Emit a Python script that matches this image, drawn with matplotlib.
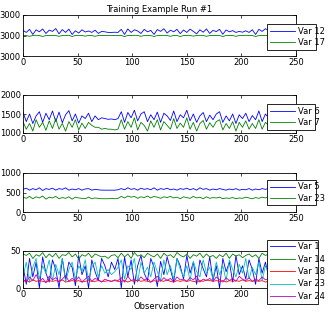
import numpy as np
import matplotlib
matplotlib.use("Agg")
import matplotlib.pyplot as plt

step = 3
title = "Training Example Run #1"
xlabel = "Observation"
xticks = [0, 50, 100, 150, 200, 250]

var12 = [3250,3150,3300,3050,3280,3180,3320,3100,3260,3200,
         3340,3080,3290,3150,3310,3050,3230,3120,3280,3170,
         3220,3150,3260,3100,3200,3180,3150,3150,3160,3150,
         3300,3050,3320,3150,3280,3220,3100,3300,3180,3250,
         3050,3290,3200,3330,3120,3260,3180,3300,3090,3270,
         3150,3310,3200,3080,3280,3160,3320,3100,3250,3190,
         3300,3060,3270,3180,3240,3150,3200,3160,3230,3150,
         3280,3050,3300,3200,3330,3250]
var17 = [3000,3000,2960,3000,3010,3000,2950,3000,3000,3000,
         3000,2960,3000,3000,3010,2950,3000,3000,3000,2970,
         3000,3000,2960,3000,3000,3000,3000,3000,3000,3000,
         3000,2950,3000,3000,3010,3000,2960,3000,3000,3000,
         2950,3000,3000,3010,3000,2960,3000,3000,2950,3000,
         3000,3000,2970,3000,3010,3000,2960,3000,3000,3000,
         3000,2950,3000,3000,3000,2960,3000,3000,3010,3000,
         3000,2950,3000,3000,3000,3000]
var6 = [1550,1300,1500,1250,1450,1560,1280,1520,1350,1580,
        1300,1550,1270,1480,1590,1320,1500,1260,1450,1380,
        1520,1300,1450,1350,1400,1380,1360,1370,1350,1380,
        1560,1280,1540,1400,1600,1320,1500,1560,1300,1480,
        1350,1550,1280,1520,1450,1330,1580,1300,1480,1400,
        1600,1320,1500,1280,1450,1540,1300,1470,1350,1500,
        1560,1280,1450,1320,1500,1250,1480,1380,1520,1300,
        1460,1350,1580,1300,1500,1400]
var7 = [1300,1100,1250,1050,1350,1150,1280,1070,1320,1120,
        1380,1100,1250,1050,1300,1150,1350,1080,1260,1120,
        1280,1200,1150,1150,1100,1120,1100,1100,1080,1100,
        1350,1100,1300,1150,1400,1080,1280,1200,1050,1320,
        1150,1350,1080,1300,1200,1100,1380,1120,1260,1150,
        1400,1100,1280,1050,1250,1330,1100,1270,1150,1300,
        1350,1080,1250,1120,1300,1050,1280,1150,1320,1100,
        1250,1120,1350,1100,1280,1200]
var5 = [580,610,560,600,570,620,550,600,580,610,
        560,600,580,620,560,590,570,600,560,590,
        600,560,580,570,560,560,560,560,560,570,
        600,570,620,580,600,560,610,580,600,570,
        620,560,600,580,610,570,590,560,600,580,
        610,570,600,560,620,580,600,560,590,570,
        600,580,560,590,570,600,560,580,570,600,
        560,590,570,600,580,610]
var23_p3 = [380,350,400,340,390,360,410,330,380,360,
            400,340,370,350,390,330,380,360,350,340,
            380,340,360,350,340,340,340,350,340,350,
            400,360,410,380,400,350,390,370,410,360,
            400,380,350,390,370,400,360,380,340,390,
            370,350,400,360,380,340,390,350,370,360,
            380,340,360,350,370,340,360,350,380,360,
            340,370,350,380,360,400]
var1 = [30,5,40,15,35,0,42,20,8,38,
        25,0,40,12,35,28,3,44,18,30,
        0,38,22,10,40,30,15,35,25,40,
        0,42,15,38,5,30,44,20,10,40,
        28,2,36,18,42,25,8,40,30,12,
        44,20,35,5,38,26,15,42,10,30,
        0,40,22,35,8,44,18,30,12,38,
        25,5,40,20,35,15]
var14 = [46,44,47,40,45,43,48,41,46,42,
         47,40,45,44,48,42,46,39,45,43,
         47,41,46,44,42,43,40,44,45,41,
         47,42,46,40,48,43,45,41,47,44,
         42,46,40,47,43,45,41,48,44,42,
         46,40,45,43,47,41,46,42,44,40,
         45,42,47,40,46,43,45,41,44,46,
         42,45,40,47,44,46]
var18 = [9,10,8,11,9,10,9,8,10,9,
         10,9,11,8,9,10,9,10,8,9,
         10,9,9,10,9,9,10,9,10,9,
         9,10,8,10,9,11,9,10,9,8,
         10,9,10,9,11,9,8,10,9,10,
         9,10,9,8,10,9,11,10,9,10,
         9,10,8,10,9,10,9,11,9,10,
         9,10,9,10,8,9]
var23_p4 = [15,35,8,28,40,12,30,20,38,10,
            32,18,40,8,25,35,12,30,22,38,
            10,28,35,15,30,20,25,18,22,28,
            38,12,30,25,40,8,35,20,28,15,
            35,22,10,38,18,30,12,40,25,15,
            30,10,36,22,15,38,20,28,12,35,
            18,30,10,38,25,15,32,20,40,12,
            28,18,35,10,30,22]
var24 = [12,8,15,10,18,9,13,7,16,11,
         14,8,12,17,9,13,10,15,8,12,
         16,9,13,11,8,12,10,9,11,10,
         14,8,16,10,12,9,15,11,13,8,
         12,16,9,14,10,13,8,15,11,12,
         9,14,11,16,8,12,10,13,9,15,
         11,8,14,10,13,9,16,12,10,14,
         9,12,10,15,11,13]

panels = [
    dict(series=[("Var 12", var12, "#0000ff"), ("Var 17", var17, "#008000")],
         ylim=(2000, 4000), yticks=[2000, 3000, 4000], ylabels=["3000", "3000", "3000"]),
    dict(series=[("Var 6", var6, "#0000ff"), ("Var 7", var7, "#008000")],
         ylim=(1000, 2000), yticks=[1000, 1500, 2000], ylabels=["1000", "1500", "2000"]),
    dict(series=[("Var 5", var5, "#0000ff"), ("Var 23", var23_p3, "#008000")],
         ylim=(0, 1000), yticks=[0, 500, 1000], ylabels=["0", "500", "1000"]),
    dict(series=[("Var 1", var1, "#0000ff"), ("Var 14", var14, "#008000"),
                 ("Var 18", var18, "#ff0000"), ("Var 23", var23_p4, "#00bfbf"),
                 ("Var 24", var24, "#bf00bf")],
         ylim=(0, 50), yticks=[0, 50], ylabels=["0", "50"]),
]

W, H = 330, 320
fig = plt.figure(figsize=(W / 100, H / 100), dpi=100)
ax_px = [(23, 15, 296, 56), (23, 95, 296, 133), (23, 173, 296, 212), (23, 251, 296, 288)]
leg_px = [(267, 25, 316, 49), (267, 104, 315, 130), (267, 182, 316, 203), (267, 238, 318, 305)]
leg_spacing = [0.25, 0.25, 0.25, 0.42]

fs = 6
for i, (p, (l, t, r, b), (ll, lt, lr, lb)) in enumerate(zip(panels, ax_px, leg_px)):
    ax = fig.add_axes([l / W, 1 - b / H, (r - l) / W, (b - t) / H])
    for name, vals, col in p["series"]:
        x = np.arange(len(vals)) * step
        ax.plot(x, vals, color=col, lw=0.6, label=name)
    ax.set_xlim(0, 250)
    ax.set_ylim(*p["ylim"])
    ax.set_xticks(xticks)
    ax.set_yticks(p["yticks"])
    ax.set_yticklabels(p["ylabels"])
    ax.tick_params(direction="in", length=2.5, width=0.5, labelsize=fs, pad=1.5,
                   top=True, right=True, colors="black")
    for s in ax.spines.values():
        s.set_linewidth(0.6)
    if i == 0:
        ax.set_title(title, fontsize=fs, pad=2)
    if i == 3:
        ax.set_xlabel(xlabel, fontsize=fs, labelpad=2)
        # the last x tick label is hidden behind the legend in the reference
        ax.get_xticklabels()[-1].set_visible(False)
    leg = ax.legend(loc="center", bbox_to_anchor=(ll / W, 1 - lb / H, (lr - ll) / W, (lb - lt) / H),
                    bbox_transform=fig.transFigure, mode="expand", fontsize=fs,
                    frameon=True, fancybox=False, framealpha=1, edgecolor="black",
                    borderaxespad=0, handlelength=3.0, handletextpad=0.4,
                    labelspacing=leg_spacing[i], borderpad=0.3)
    leg.get_frame().set_linewidth(0.6)

fig.savefig("out.png", dpi=100)
